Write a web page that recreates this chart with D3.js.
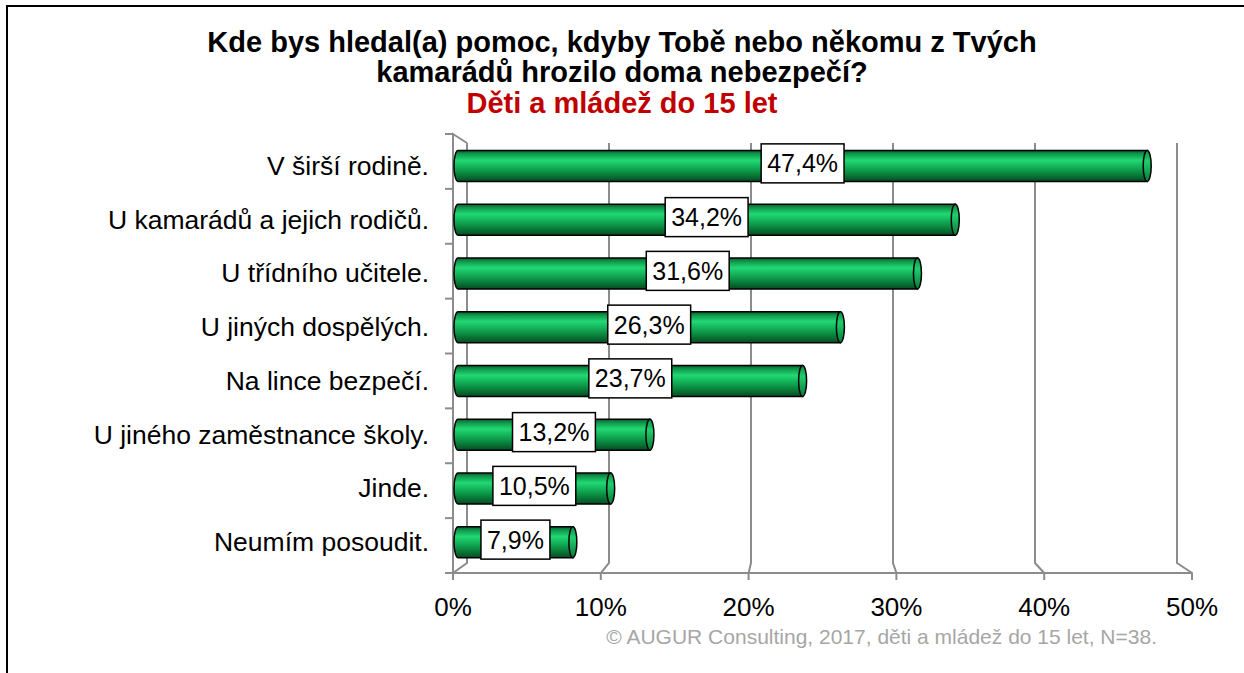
<!DOCTYPE html>
<html>
<head>
<meta charset="utf-8">
<script src="https://cdn.jsdelivr.net/npm/d3@7"></script>
<style>
  html, body { margin: 0; padding: 0; background: #fff; }
  svg { display: block; font-family: "Liberation Sans", Arial, sans-serif; }
</style>
</head>
<body>
<svg id="chart" width="1244" height="673"></svg>
<script>
// Survey answers (share of respondents, %)
const categories = [
  "V širší rodině.",
  "U kamarádů a jejich rodičů.",
  "U třídního učitele.",
  "U jiných dospělých.",
  "Na lince bezpečí.",
  "U jiného zaměstnance školy.",
  "Jinde.",
  "Neumím posoudit."
];
const values = [47.4, 34.2, 31.6, 26.3, 23.7, 13.2, 10.5, 7.9];
const xTicks = [0, 10, 20, 30, 40, 50];
const titleLines = [
  "Kde bys hledal(a) pomoc, kdyby Tobě nebo někomu z Tvých",
  "kamarádů hrozilo doma nebezpečí?"
];
const subtitle = "Děti a mládež do 15 let";
const footer = "© AUGUR Consulting, 2017, děti a mládež do 15 let, N=38.";

const svg = d3.select("#chart");
const fmt = v => d3.format(".1f")(v).replace(".", ",") + "%";

// frame (top and left edges)
svg.append("path")
  .attr("d", "M7,673 V6 H1244")
  .attr("fill", "none").attr("stroke", "#000").attr("stroke-width", 2);

// titles
const tg = svg.append("g").attr("text-anchor", "middle");
titleLines.forEach((t, i) => {
  tg.append("text").attr("x", 622).attr("y", 52 + i * 30)
    .attr("font-size", 29).attr("font-weight", "bold").attr("fill", "#000").text(t);
});
tg.append("text").attr("x", 622).attr("y", 113)
  .attr("font-size", 29).attr("font-weight", "bold").attr("fill", "#c00000").text(subtitle);

// scales: front floor edge, back wall, and bar mid-depth
const xFront = d3.scaleLinear().domain([0, 50]).range([453, 1192]);
const xBack = d3.scaleLinear().domain([0, 50]).range([467, 1177]);
const xBar = d3.scaleLinear().domain([0, 50]).range([458, 1185]);
const yFront = d3.scaleBand().domain(categories).range([134, 573]);
const yBar = d3.scaleBand().domain(categories).range([139, 569]);

const yFloorFront = 573, yFloorBack = 563, yWallTop = 143, yAxisTop = 134;
const grid = svg.append("g").attr("fill", "none").attr("stroke", "#8c8c8c").attr("stroke-width", 2);

// back-wall gridlines, floor diagonals and ticks
xTicks.forEach(t => {
  grid.append("path").attr("d",
    `M${xBack(t)},${yWallTop} V${yFloorBack} L${xFront(t)},${yFloorFront} V${yFloorFront + 7}`);
});
// floor front edge
grid.append("path").attr("d", `M${xFront(0) - 8},${yFloorFront} H${xFront(50)}`);
// left wall front edge with top diagonal
grid.append("path").attr("d",
  `M${xFront(0)},${yFloorFront} V${yAxisTop} L${xBack(0)},${yWallTop}`);
// category ticks
categories.forEach(c => {
  grid.append("path").attr("d", `M${xFront(0) - 8},${yFront(c)} H${xFront(0)}`);
});
grid.append("path").attr("d", `M${xFront(0) - 8},${yFloorFront} H${xFront(0)}`);

// x tick labels
svg.append("g").selectAll("text").data(xTicks).join("text")
  .attr("x", d => xFront(d)).attr("y", 616)
  .attr("text-anchor", "middle").attr("font-size", 26).attr("fill", "#000")
  .text(d => d + "%");

// category labels, centred on each bar
svg.append("g").selectAll("text").data(categories).join("text")
  .attr("x", 429).attr("y", d => yBar(d) + yBar.bandwidth() / 2 + 9)
  .attr("text-anchor", "end").attr("font-size", 26.5).attr("fill", "#000")
  .text(d => d);

// cylinder shading
const defs = svg.append("defs");
const grad = defs.append("linearGradient").attr("id", "cyl")
  .attr("x1", 0).attr("y1", 0).attr("x2", 0).attr("y2", 1);
[[0, "#0a5a2c"], [0.12, "#0f9a4c"], [0.32, "#22d874"], [0.48, "#16bb5f"],
 [0.72, "#0b8b41"], [0.9, "#06632d"], [1, "#044a21"]]
  .forEach(([o, c]) => grad.append("stop").attr("offset", o).attr("stop-color", c));
const capGrad = defs.append("linearGradient").attr("id", "cap")
  .attr("x1", 0).attr("y1", 0).attr("x2", 0).attr("y2", 1);
[[0, "#0c8a43"], [0.35, "#1fcf6e"], [1, "#087a38"]]
  .forEach(([o, c]) => capGrad.append("stop").attr("offset", o).attr("stop-color", c));

const barH = 31, rx = 4;
const bars = svg.append("g").selectAll("g").data(categories).join("g");
bars.each(function (c, i) {
  const g = d3.select(this);
  const x0 = xBar(0), x1 = xBar(values[i]);
  const cy = yBar(c) + yBar.bandwidth() / 2;
  const top = cy - barH / 2, bot = cy + barH / 2;
  g.append("path")
    .attr("d", `M${x1},${top} H${x0} A${rx},${barH / 2} 0 0 0 ${x0},${bot} H${x1} Z`)
    .attr("fill", "url(#cyl)").attr("stroke", "#000").attr("stroke-width", 1.5);
  g.append("ellipse").attr("cx", x1).attr("cy", cy).attr("rx", rx).attr("ry", barH / 2)
    .attr("fill", "url(#cap)").attr("stroke", "#000").attr("stroke-width", 1.5);

  // value label box
  const lx = (x0 - rx + x1 + rx) / 2, ly = cy - 2.5;
  const txt = g.append("text").attr("x", lx).attr("y", ly + 9)
    .attr("text-anchor", "middle").attr("font-size", 25).attr("fill", "#000")
    .text(fmt(values[i]));
  const w = txt.node().getComputedTextLength() + 12;
  g.insert("rect", "text").attr("x", lx - w / 2).attr("y", ly - 19.5)
    .attr("width", w).attr("height", 39)
    .attr("fill", "#fff").attr("stroke", "#000").attr("stroke-width", 1.5);
});

// source note
svg.append("text").attr("x", 1157).attr("y", 644)
  .attr("text-anchor", "end").attr("font-size", 21).attr("fill", "#a6a6a6")
  .text(footer);
</script>
</body>
</html>
